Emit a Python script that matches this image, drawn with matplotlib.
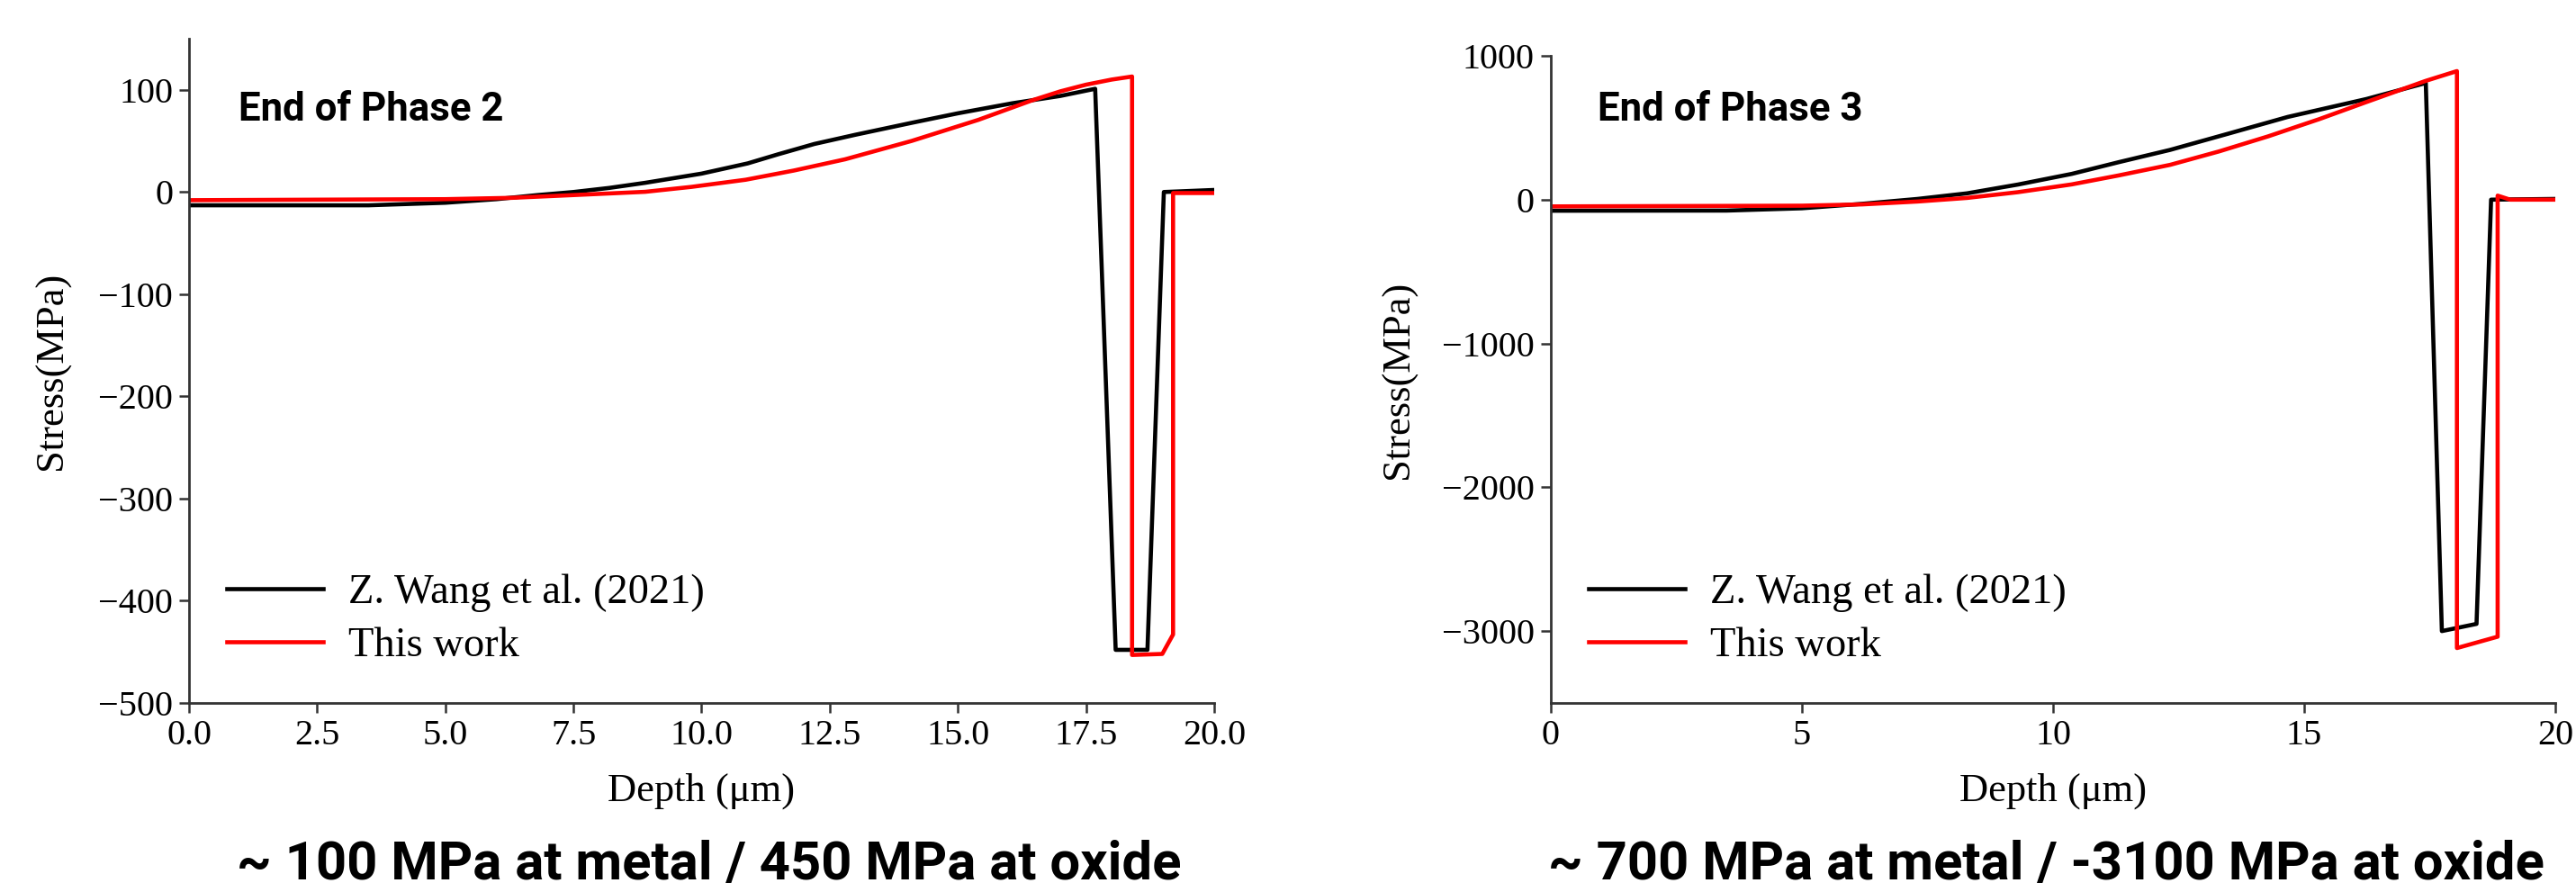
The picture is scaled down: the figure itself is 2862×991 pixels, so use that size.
import matplotlib
matplotlib.use("Agg")
import matplotlib.pyplot as plt
import numpy as np

# ---------------- data ----------------
left_wang_x = [0, 3.5, 5.0, 6.0, 6.8, 7.5, 8.2, 8.9, 10.0, 10.9, 11.5, 12.2, 13.0, 14.1,
               15.0, 16.06, 17.0, 17.68, 18.08, 18.70, 19.02, 20.0]
left_wang_y = [-13, -13, -10.5, -7, -3, 0, 4, 9, 18, 28, 37, 47, 56, 67.7,
               77, 86.8, 94, 101, -448, -448, 0, 2]

left_this_x = [0, 5.0, 6.3, 7.5, 8.9, 9.8, 10.86, 11.8, 12.8, 14.1, 15.4, 16.45, 17.0, 17.5,
               18.0, 18.40, 18.40, 18.99, 19.2, 19.2, 20.0]
left_this_y = [-8, -7, -5.7, -3, 0.2, 5, 12, 21, 32, 50, 70.6, 89.7, 98.5, 105,
               110, 113, -453, -452, -433, -1, -1]

right_wang_x = [0, 3.5, 5.0, 6.2, 7.3, 8.29, 9.3, 10.37, 11.3, 12.33, 13.5, 14.67, 16.24,
                17.42, 17.74, 18.43, 18.72, 20.0]
right_wang_y = [-77, -76, -60, -29, 5, 44, 105, 179, 260, 346, 460, 575, 700,
                811, -3000, -2950, 0, 5]

right_this_x = [0, 5.0, 6.2, 7.3, 8.29, 9.3, 10.37, 11.3, 12.33, 13.3, 14.28, 15.3, 16.24,
                17.41, 18.04, 18.04, 18.85, 18.85, 19.1, 20.0]
right_this_y = [-47, -42, -33, -13, 12, 52, 106, 168, 242, 335, 440, 560, 679,
                825, 894, -3118, -3039, 28, 0, 0]

left_xticks = [0, 2.5, 5, 7.5, 10, 12.5, 15, 17.5, 20]
left_yticks = [-500, -400, -300, -200, -100, 0, 100]
right_xticks = [0, 5, 10, 15, 20]
right_yticks = [-3000, -2000, -1000, 0, 1000]

legend_labels = ["Z. Wang et al. (2021)", "This work"]
titles = ["End of Phase 2", "End of Phase 3"]
captions = ["~ 100 MPa at metal / 450 MPa at oxide",
            "~ 700 MPa at metal / -3100 MPa at oxide"]
xlabel = "Depth (μm)"
ylabel = "Stress(MPa)"

# ---------------- style ----------------
plt.rcParams["font.family"] = ["Liberation Serif", "DejaVu Serif"]
plt.rcParams["axes.unicode_minus"] = True

fig = plt.figure(figsize=(28.62, 9.91), dpi=100)

ax1 = fig.add_axes([0.0734, 0.2119, 0.3979, 0.7447])
ax2 = fig.add_axes([0.602, 0.2119, 0.390, 0.7255])

TICK_FS = 29
LAB_FS = 32
LEG_FS = 33.5
LW = 3.3


def style(ax, xlim, ylim, xticks, yticks, xfmt, ylabpad):
    for s in ["top", "right"]:
        ax.spines[s].set_visible(False)
    for s in ["left", "bottom"]:
        ax.spines[s].set_linewidth(2.0)
        ax.spines[s].set_color("#333333")
    ax.set_xlim(*xlim)
    ax.set_ylim(*ylim)
    ax.set_xticks(xticks)
    ax.set_yticks(yticks)
    ax.set_xticklabels([xfmt(v) for v in xticks])
    ax.tick_params(axis="both", direction="out", length=8, width=1.8,
                   color="#333333", labelsize=TICK_FS, pad=5)
    ax.set_xlabel(xlabel, fontsize=LAB_FS, labelpad=16)
    ax.set_ylabel(ylabel, fontsize=LAB_FS, labelpad=ylabpad)


ax1.plot(left_wang_x, left_wang_y, color="black", lw=LW, label=legend_labels[0])
ax1.plot(left_this_x, left_this_y, color="#ff0000", lw=LW, label=legend_labels[1])
style(ax1, (0, 20), (-500, 150), left_xticks, left_yticks, lambda v: f"{v:.1f}", 22)

ax2.plot(right_wang_x, right_wang_y, color="black", lw=LW, label=legend_labels[0])
ax2.plot(right_this_x, right_this_y, color="#ff0000", lw=LW, label=legend_labels[1])
style(ax2, (0, 20), (-3500, 1000), right_xticks, right_yticks, lambda v: f"{v:.0f}", 20)

for ax in (ax1, ax2):
    ax.legend(loc="lower left", frameon=False, fontsize=LEG_FS,
              handlelength=2.3, handletextpad=0.6, labelspacing=0.35)

ax1.text(0.048, 0.893, titles[0], transform=ax1.transAxes, fontsize=31.5,
         fontweight="bold", family=["Roboto", "DejaVu Sans"], va="center", ha="left")
ax2.text(0.047, 0.9166, titles[1], transform=ax2.transAxes, fontsize=31.5,
         fontweight="bold", family=["Roboto", "DejaVu Sans"], va="center", ha="left")

fig.text(0.2754, 0.030, captions[0], fontsize=43, fontweight="bold",
         family=["Roboto", "DejaVu Sans"], ha="center", va="center")
fig.text(0.7942, 0.030, captions[1], fontsize=43, fontweight="bold",
         family=["Roboto", "DejaVu Sans"], ha="center", va="center")

fig.savefig("out.png", dpi=100)
